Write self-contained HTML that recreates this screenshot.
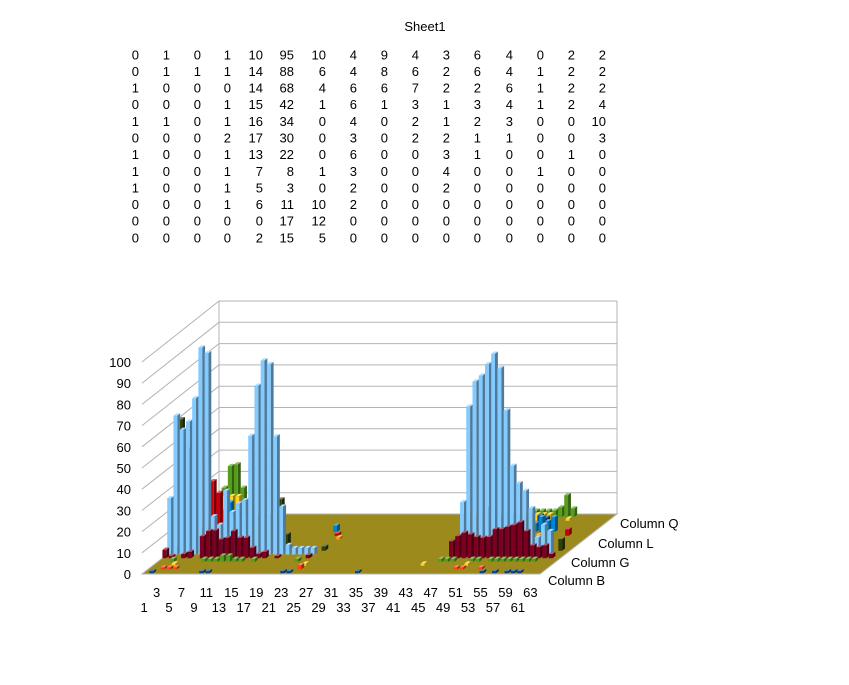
<!DOCTYPE html>
<html><head><meta charset="utf-8">
<style>
html,body{margin:0;padding:0;background:#fff;}
body{width:849px;height:680px;overflow:hidden;font-family:"Liberation Sans",sans-serif;}
svg text{font-family:"Liberation Sans",sans-serif;font-size:13px;fill:#000;}
</style></head>
<body>
<svg id="chart" width="849" height="680" viewBox="0 0 849 680" xmlns="http://www.w3.org/2000/svg">
<text x="425" y="31" text-anchor="middle">Sheet1</text>
<g id="table"></g>
<g id="walls"></g>
<g id="bars"></g>
<g id="axes"></g>
</svg>
<script>
// ---- table data ----
const tableRows = [
[0,1,0,1,10,95,10,4,9,4,3,6,4,0,2,2],
[0,1,1,1,14,88,6,4,8,6,2,6,4,1,2,2],
[1,0,0,0,14,68,4,6,6,7,2,2,6,1,2,2],
[0,0,0,1,15,42,1,6,1,3,1,3,4,1,2,4],
[1,1,0,1,16,34,0,4,0,2,1,2,3,0,0,10],
[0,0,0,2,17,30,0,3,0,2,2,1,1,0,0,3],
[1,0,0,1,13,22,0,6,0,0,3,1,0,0,1,0],
[1,0,0,1,7,8,1,3,0,0,4,0,0,1,0,0],
[1,0,0,1,5,3,0,2,0,0,2,0,0,0,0,0],
[0,0,0,1,6,11,10,2,0,0,0,0,0,0,0,0],
[0,0,0,0,0,17,12,0,0,0,0,0,0,0,0,0],
[0,0,0,0,2,15,5,0,0,0,0,0,0,0,0,0]
];
// ---- chart data ----
const categories = Array.from({length:63},(_,i)=>i+1);
const seriesNames = ["Column B","Column C","Column D","Column E","Column F","Column G","Column H","Column I","Column J","Column K","Column L","Column M","Column N","Column O","Column P","Column Q"];
const seriesColors = ["#004586","#ff420e","#ffd320","#579d1c","#7e0021","#83caff","#314004","#aecf00","#4b1f6f","#ff950e","#c5000b","#0084d1","#004586","#ff420e","#ffd320","#579d1c"];
const yTicks = [0,10,20,30,40,50,60,70,80,90,100];
const depthLabels = ["Column B","Column G","Column L","Column Q"];
// sparse series values: [category, value]
const colB = [[2,1],[10,1],[11,1],[23,1],[24,1],[35,1],[55,1],[57,1],[59,1],[60,1],[61,1]];
const colC = [[3,1],[4,1],[5,1],[25,2],[50,1],[51,1],[54,1]];
const colD = [[4,1],[25,1],[44,1],[51,1]];
const colE = [[3,1.5],[8,1.5],[9,1.5],[10,1.5],[11,3],[12,3],[13,1.5],[14,1.5],[16,1.5],[23,1.5],[46,1.5],[47,1.5],[48,1.5],[51,1.5],[52,1.5],[54,1.5],[55,1.5],[56,1.5],[57,1.5],[58,1.5],[59,1.5],[60,1.5],[61,1.5]];
const colF = [[1,4],[2,1],[4,2],[5,3],[7,10.4],[8,12.8],[9,13.1],[10,8.9],[11,9.6],[12,12.8],[13,9.6],[14,9.6],[15,4.9],[16,2],[17,3],[19,1],[24,1.5],[47,8],[48,10.4],[49,12],[50,11.2],[51,10],[52,9.6],[53,10],[54,13.7],[55,13.7],[56,14.8],[57,15.6],[58,16.9],[59,12.8],[60,6],[61,5.2],[62,6],[63,2]];
const colG = [[1,26.6],[2,65.5],[3,58.8],[4,62.7],[5,73.7],[6,97.6],[7,95],[8,18],[9,14],[10,30],[11,20],[12,24],[13,25.6],[14,56],[15,79.6],[16,91.5],[17,89.8],[18,55.7],[19,22.6],[20,4.5],[21,3],[22,3],[23,3],[24,3],[48,24.7],[49,69.8],[50,81.6],[51,84.4],[52,89.8],[53,94.7],[54,87.9],[55,67.9],[56,41.8],[57,33.6],[58,30],[59,21.8],[60,8],[61,14],[62,11]];
const colH = [[2,62],[3,48],[18,24.2],[19,7.8],[25,2],[51,20],[52,18],[63,5.5]];
const colI = [[10,13.8],[12,8],[60,5]];
const colJ = [];
const colK = [[25,1],[57,2],[58,2]];
const colL = [[4,25.7],[5,20.2],[6,12.4],[24,1],[61,3]];
const colM = [[6,14],[7,10],[23,3],[55,4],[56,7],[57,5],[58,7]];
const colN = [[55,6],[56,5]];
const colO = [[54,1],[55,1]];
const colP = [[2,8],[3,11.6],[4,11.6],[5,11.6],[53,3],[54,3],[55,3],[58,1]];
const colQ = [[2,13.8],[3,24],[4,24.8],[5,13.8],[52,3],[53,3],[54,3],[55,3],[56,4.5],[57,10.3],[58,4]];
const seriesValues = [colB,colC,colD,colE,colF,colG,colH,colI,colJ,colK,colL,colM,colN,colO,colP,colQ];

const NS="http://www.w3.org/2000/svg";
function mk(tag,attrs,parent){const e=document.createElementNS(NS,tag);for(const k in attrs)e.setAttribute(k,attrs[k]);parent.appendChild(e);return e;}

// table
const tbl=document.getElementById('table');
const colRight=[139,170,201,231,263,294,326,357,388,419,450,481,513,544,575,606];
tableRows.forEach((row,r)=>{row.forEach((v,c)=>{
  const t=mk('text',{x:colRight[c],y:59.3+r*16.64,'text-anchor':'end'},tbl);
  
  
  t.textContent=v;});});

// projection
const FX0=141, CW=6.23, DX=77, DY=60, VS=2.12, Y0=574, NS_=seriesNames.length;
function px(c,d){return FX0+(c-0.5)*CW+d*DX;}
function py(v,d){return Y0-d*DY-v*VS;}

// walls
const walls=document.getElementById('walls');
const floor=mk('polygon',{points:`142,574 540,574 617,514 219,514`,fill:'#9c8a1d',stroke:'#b3b3b3','stroke-width':1},walls);


yTicks.forEach(v=>{
  const yb=514-v*2.13, yf=574-v*2.12;
  if(v>0){
  const h=mk('line',{x1:219,y1:yb,x2:617,y2:yb,stroke:'#b3b3b3','stroke-width':1},walls);
  
  
  const l=mk('line',{x1:142,y1:yf,x2:219,y2:yb,stroke:'#b3b3b3','stroke-width':1},walls);
  
  
  }
  const t=mk('text',{x:131,y:yf+5,'text-anchor':'end'},document.getElementById('axes'));
  
  
  t.textContent=v;
});
const vl=mk('line',{x1:219,y1:301,x2:219,y2:514,stroke:'#b3b3b3'},walls);


const vr=mk('line',{x1:617,y1:301,x2:617,y2:514,stroke:'#b3b3b3'},walls);



// colour helper
function shade(hex,f){const n=parseInt(hex.slice(1),16);let r=n>>16,g=(n>>8)&255,b=n&255;
 if(f<1){r*=f;g*=f;b*=f;}else{r=r+(255-r)*(f-1);g=g+(255-g)*(f-1);b=b+(255-b)*(f-1);}
 return `rgb(${Math.round(r)},${Math.round(g)},${Math.round(b)})`;}

// bars: back series first
const barsG=document.getElementById('bars');
const W=3.8;
for(let s=NS_-1;s>=0;s--){
  const dF=(s+0.2)/NS_, dB=(s+0.8)/NS_;
  const col=seriesColors[s];
  const items=seriesValues[s].slice().sort((a,b)=>a[0]-b[0]);
  items.forEach(([c,v])=>{
    const g=mk('g',{},barsG);
    
    
    const xl=px(c,dF)-W/2, xr=xl+W, yb=py(0,dF), yt=py(v,dF);
    const ox=(dB-dF)*DX, oy=(dB-dF)*DY;
    mk('polygon',{points:`${xr},${yb} ${xr+ox},${yb-oy} ${xr+ox},${yt-oy} ${xr},${yt}`,fill:shade(col,0.6)},g);
    mk('polygon',{points:`${xl},${yt} ${xr},${yt} ${xr+ox},${yt-oy} ${xl+ox},${yt-oy}`,fill:shade(col,1.35)},g);
    mk('rect',{x:xl,y:yt,width:W,height:Math.max(yb-yt,0.5),fill:col},g);
  });
}

// x labels
const axes=document.getElementById('axes');
categories.forEach(c=>{
  if(c%2===0) return;
  const lower=((c-1)/2)%2===0;
  const t=mk('text',{x:px(c,0),y:lower?612:597,'text-anchor':'middle'},axes);
  
  
  t.textContent=c;
});
// depth labels
const depthPos=[[548,585],[571,567],[598,548],[620,528]];
depthLabels.forEach((n,i)=>{
  const t=mk('text',{x:depthPos[i][0],y:depthPos[i][1]},axes);
  
  
  t.textContent=n;
});
</script>
</body></html>
